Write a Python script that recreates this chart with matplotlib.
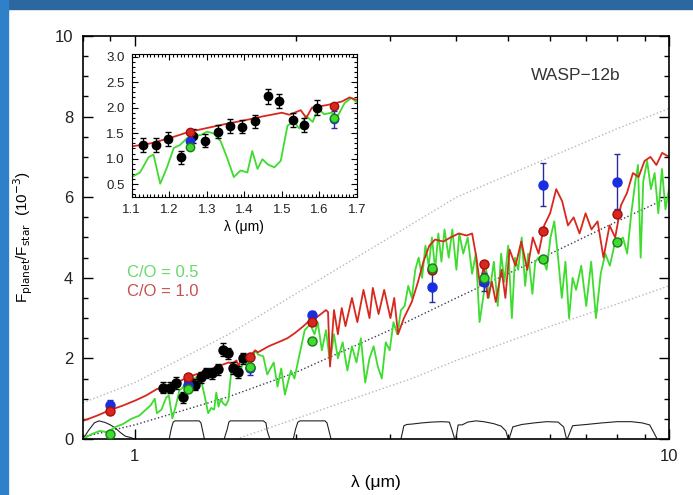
import numpy as np
import matplotlib.pyplot as plt
from matplotlib.ticker import MultipleLocator, FixedLocator, NullFormatter, FixedFormatter
from matplotlib.patches import Rectangle

plt.rcParams['font.family'] = ['Liberation Sans', 'DejaVu Sans']

# model spectra (wavelength in micron, Fp/Fs in 1e-3)
red_wl = [0.80, 0.85, 0.90, 0.95, 1.00, 1.05, 1.10, 1.15, 1.20, 1.25, 1.30, 1.35, 1.40, 1.45,
          1.50, 1.52, 1.55, 1.565, 1.58, 1.62, 1.66, 1.68, 1.70, 1.78, 1.87, 1.93, 1.99, 2.06,
          2.13, 2.18, 2.23, 2.28, 2.30, 2.32, 2.36, 2.40, 2.44, 2.48, 2.55, 2.61, 2.68, 2.75,
          2.79, 2.86, 2.93, 3.01, 3.06, 3.11, 3.19, 3.30, 3.39, 3.47, 3.56, 3.65, 3.78, 3.90,
          4.04, 4.18, 4.28, 4.36, 4.43, 4.50, 4.58, 4.66, 4.74, 4.86, 4.94, 5.03, 5.16, 5.29,
          5.43, 5.56, 5.70, 5.84, 5.99, 6.15, 6.31, 6.47, 6.63, 6.80, 6.98, 7.16, 7.35, 7.54,
          7.74, 7.93, 8.13, 8.34, 8.56, 8.77, 9.00, 9.23, 9.47, 9.71, 10.0]
red_f = [0.45, 0.58, 0.72, 0.83, 0.95, 1.08, 1.24, 1.30, 1.40, 1.52, 1.60, 1.68, 1.75, 1.83,
         1.90, 1.86, 1.95, 1.80, 2.00, 2.05, 2.12, 2.20, 2.15, 2.30, 2.42, 2.50, 2.62, 2.78,
         2.95, 3.00, 3.10, 3.20, 3.15, 1.80, 3.20, 2.60, 3.25, 2.80, 3.50, 2.90, 3.70, 3.00,
         3.75, 3.10, 3.70, 3.00, 3.50, 2.60, 3.00, 3.40, 3.90, 4.40, 4.80, 4.95, 4.90, 5.00,
         5.10, 5.05, 5.10, 4.50, 3.80, 4.30, 3.50, 3.90, 3.40, 4.20, 3.50, 4.70, 4.30, 4.90,
         4.20, 5.00, 4.60, 5.30, 5.60, 6.20, 5.90, 5.30, 5.50, 5.10, 5.60, 5.20, 5.40, 4.50,
         5.30, 5.00, 5.80, 6.10, 6.60, 6.50, 6.90, 7.00, 6.80, 7.10, 7.00]

green_wl = [0.80, 0.83, 0.86, 0.89, 0.92, 0.95, 0.985, 1.02, 1.045, 1.07, 1.09, 1.10, 1.122,
            1.145, 1.158, 1.176, 1.194, 1.212, 1.229, 1.247, 1.265, 1.283, 1.301, 1.319, 1.337,
            1.354, 1.372, 1.39, 1.408, 1.421, 1.435, 1.448, 1.462, 1.48, 1.497, 1.515, 1.533,
            1.546, 1.564, 1.582, 1.596, 1.613, 1.631, 1.649, 1.667, 1.685, 1.70, 1.74, 1.77,
            1.82, 1.85, 1.88, 1.91, 1.96, 1.99, 2.05, 2.08, 2.13, 2.17, 2.20, 2.24, 2.28, 2.32,
            2.36, 2.40, 2.45, 2.50, 2.55, 2.60, 2.65, 2.70, 2.75, 2.80, 2.85, 2.90, 2.95, 3.00,
            3.05, 3.10, 3.15, 3.20, 3.25, 3.30, 3.35, 3.40, 3.45, 3.50, 3.55, 3.60, 3.65, 3.70,
            3.75, 3.80, 3.87, 3.93, 4.00, 4.05, 4.12, 4.20, 4.28, 4.35, 4.42, 4.50, 4.55, 4.60,
            4.70, 4.78, 4.85, 4.92, 5.00, 5.08, 5.15, 5.22, 5.30, 5.38, 5.45, 5.55, 5.62, 5.70,
            5.80, 5.90, 6.00, 6.10, 6.20, 6.30, 6.40, 6.50, 6.60, 6.70, 6.85, 7.00, 7.15, 7.30,
            7.45, 7.60, 7.75, 7.90, 8.05, 8.20, 8.35, 8.50, 8.65, 8.75, 8.85, 8.95, 9.10, 9.25,
            9.40, 9.55, 9.70, 9.85, 10.0]
green_f = [0.00, 0.12, 0.20, 0.17, 0.30, 0.37, 0.50, 0.58, 0.71, 0.83, 1.00, 0.64, 0.73,
           1.03, 1.08, 0.51, 0.83, 1.21, 1.27, 1.40, 1.46, 1.46, 1.53, 1.49, 1.34,
           1.02, 0.64, 0.77, 0.73, 1.15, 0.80, 0.99, 0.89, 0.83, 0.96, 1.65, 1.72,
           1.59, 1.84, 1.72, 1.98, 1.87, 1.90, 1.84, 2.09, 2.19, 2.10, 2.05, 1.60,
           1.90, 1.30, 1.75, 1.10, 1.70, 1.50, 2.30, 2.70, 2.85, 2.60, 2.90, 2.20, 2.70, 1.90,
           2.60, 2.00, 2.40, 1.70, 2.30, 1.90, 2.50, 1.40, 2.00, 2.30, 1.80, 1.50, 2.40, 2.20,
           2.90, 2.60, 3.20, 3.30, 3.80, 3.50, 4.20, 4.50, 4.00, 4.80, 4.30, 5.00, 4.20, 5.10,
           4.40, 5.20, 4.50, 5.20, 4.20, 5.10, 4.60, 5.00, 4.10, 4.60, 2.90, 3.60, 4.20, 3.50,
           4.40, 3.30, 4.60, 3.90, 4.80, 3.00, 4.50, 4.20, 5.00, 3.80, 4.60, 3.60, 4.40, 4.50,
           4.50, 4.20, 5.00, 5.40, 4.50, 3.50, 4.40, 3.00, 4.00, 3.70, 4.30, 3.30, 4.40, 3.00,
           4.10, 4.60, 4.30, 4.80, 4.90, 5.00, 4.60, 5.60, 6.40, 6.80, 4.50, 6.40, 6.90, 6.20,
           6.60, 5.60, 6.70, 5.70, 6.20]

# blackbody reference curves (dotted)
bb_wl = [0.80, 1.00, 1.50, 2.00, 3.00, 4.00, 6.00, 8.00, 10.0]
bb_hot = [0.90, 1.40, 2.60, 3.60, 5.00, 6.00, 7.00, 7.70, 8.20]
bb_mid = [0.05, 0.35, 1.05, 1.65, 2.70, 3.50, 4.60, 5.40, 6.00]
bb_cold_wl = [1.55, 2.00, 2.50, 3.30, 4.00, 6.00, 8.00, 10.0]
bb_cold = [0.00, 0.50, 0.95, 1.50, 1.95, 2.80, 3.35, 3.80]

# filter transmission curves
filt_z_wl = [0.80, 0.82, 0.84, 0.857, 0.88, 0.90, 0.92, 0.94, 0.96, 0.98, 1.0]
filt_z = [0.0, 0.22, 0.40, 0.45, 0.41, 0.35, 0.27, 0.16, 0.07, 0.04, 0.0]
filt_j_wl = [1.16, 1.17, 1.18, 1.19, 1.32, 1.33, 1.34, 1.35]
filt_h_wl = [1.47, 1.49, 1.50, 1.51, 1.74, 1.76, 1.77, 1.79]
filt_k_wl = [1.98, 2.00, 2.02, 2.04, 2.27, 2.29, 2.31, 2.33]
filt_nir = [0.0, 0.25, 0.42, 0.45, 0.45, 0.40, 0.20, 0.0]
filt_c1_wl = [3.15, 3.19, 3.23, 3.30, 3.45, 3.60, 3.75, 3.88, 3.93, 3.97]
filt_c1 = [0.0, 0.33, 0.36, 0.37, 0.40, 0.42, 0.43, 0.42, 0.20, 0.0]
filt_c2_wl = [3.99, 4.03, 4.10, 4.20, 4.35, 4.50, 4.70, 4.85, 4.95, 5.0]
filt_c2 = [0.0, 0.35, 0.35, 0.42, 0.45, 0.43, 0.38, 0.32, 0.20, 0.0]
filt_c3_wl = [5.02, 5.10, 5.30, 5.60, 5.90, 6.20, 6.35, 6.43]
filt_c3 = [0.0, 0.30, 0.36, 0.40, 0.43, 0.42, 0.30, 0.0]
filt_c4_wl = [6.45, 6.60, 7.00, 7.50, 8.00, 8.50, 8.90, 9.20, 9.40, 9.50]
filt_c4 = [0.0, 0.33, 0.36, 0.40, 0.43, 0.43, 0.40, 0.35, 0.12, 0.0]

# HST/WFC3 spectrum
hst_wl = [1.131, 1.164, 1.196, 1.231, 1.263, 1.295, 1.329, 1.362, 1.395, 1.429, 1.462, 1.493,
          1.529, 1.560, 1.593]
hst_f = [1.27, 1.27, 1.39, 1.03, 1.44, 1.35, 1.53, 1.64, 1.63, 1.73, 2.22, 2.13, 1.76, 1.66, 2.00]
hst_err = [0.14, 0.14, 0.14, 0.13, 0.14, 0.13, 0.13, 0.13, 0.13, 0.13, 0.15, 0.14, 0.14, 0.14, 0.14]

# broadband photometry: observed (blue), C/O=1 (red), C/O=0.5 (green)
phot_wl = [0.90, 1.256, 1.64, 2.15, 3.6, 4.5, 5.8, 8.0]
phot_obs = [0.85, 1.35, 1.77, 3.07, 3.77, 3.89, 6.31, 6.38]
phot_err = [0.12, 0.12, 0.17, 0.10, 0.37, 0.22, 0.53, 0.68]
phot_red = [0.70, 1.53, 2.03, 2.90, 4.19, 4.35, 5.17, 5.59]
phot_green = [0.13, 1.23, 1.79, 2.44, 4.25, 4.00, 4.47, 4.88]

c_green = '#3ddc2e'
c_red = '#d8281e'
c_blue = '#1a2ee0'

fig = plt.figure(figsize=(6.93, 4.95), dpi=100)
fig.patches.append(Rectangle((0, 1 - 9 / 495), 1, 9 / 495, transform=fig.transFigure,
                             color='#2d67a0', zorder=-1))
fig.patches.append(Rectangle((0, 0), 8 / 693, 1, transform=fig.transFigure,
                             color='#2f80c8', zorder=-1))

ax = fig.add_axes([83 / 693, 1 - 439 / 495, 586 / 693, 403 / 495])
ax.set_xscale('log')

ax.plot(bb_wl, bb_hot, ls=':', color='#b8b8b8', lw=1.0)
ax.plot(bb_wl, bb_mid, ls=':', color='#3a3a5a', lw=1.0)
ax.plot(bb_cold_wl, bb_cold, ls=':', color='#b8b8b8', lw=1.0)

for wl, tr in [(filt_z_wl, filt_z), (filt_j_wl, filt_nir), (filt_h_wl, filt_nir),
               (filt_k_wl, filt_nir), (filt_c1_wl, filt_c1), (filt_c2_wl, filt_c2),
               (filt_c3_wl, filt_c3), (filt_c4_wl, filt_c4)]:
    ax.plot(wl, tr, color='#222222', lw=0.8)

ax.plot(green_wl, green_f, color=c_green, lw=1.3)
ax.plot(red_wl, red_f, color=c_red, lw=1.3)

ax.errorbar(hst_wl, hst_f, yerr=hst_err, fmt='o', color='black', ms=6.5, capsize=2.5,
            elinewidth=0.9, zorder=5)
ax.errorbar(phot_wl, phot_obs, yerr=phot_err, fmt='o', color=c_blue, ecolor='#2a2a9a',
            ms=6.5, capsize=2.5, elinewidth=1.0, zorder=5)
ax.plot(phot_wl, phot_red, 'o', color=c_red, mec='#a01010', ms=6.5, zorder=6)
ax.plot(phot_wl, phot_green, 'o', color=c_green, mec='#1a7a1a', ms=6.5, zorder=6)

ax.set_xlim(0.8, 10)
ax.set_ylim(0, 10)
ax.xaxis.set_major_locator(FixedLocator([1, 10]))
ax.xaxis.set_major_formatter(FixedFormatter(['1', '10']))
ax.xaxis.set_minor_locator(FixedLocator([0.8, 0.9, 2, 3, 4, 5, 6, 7, 8, 9]))
ax.xaxis.set_minor_formatter(NullFormatter())
ax.yaxis.set_major_locator(MultipleLocator(2))
ax.yaxis.set_minor_locator(MultipleLocator(0.5))
ax.tick_params(which='both', direction='in', top=True, right=True, labelsize=12,
               labelcolor='#222222', width=1.0)
ax.tick_params(which='major', length=7, pad=7)
ax.tick_params(which='minor', length=3.5)
for s in ax.spines.values():
    s.set_linewidth(1.2)

ax.set_xlabel('λ (μm)', fontsize=12.5, labelpad=8)
ax.set_ylabel(r'F$_{\rm planet}$/F$_{\rm star}$  (10$^{-3}$)', fontsize=11, labelpad=14)

ax.text(0.84, 0.903, 'WASP−12b', transform=ax.transAxes, fontsize=12.5, color='#333333',
        ha='center', va='center')
ax.text(0.075, 0.414, 'C/O = 0.5', transform=ax.transAxes, fontsize=12, color='#6ad86a',
        va='center')
ax.text(0.075, 0.365, 'C/O = 1.0', transform=ax.transAxes, fontsize=12, color='#c85050',
        va='center')

# inset: zoom on WFC3 range
ins = fig.add_axes([131.7 / 693, 1 - 197 / 495, 225.3 / 693, 143 / 495])
ins.plot(green_wl, green_f, color=c_green, lw=1.3)
ins.plot(red_wl, red_f, color=c_red, lw=1.3)
ins.errorbar(hst_wl, hst_f, yerr=hst_err, fmt='o', color='black', ms=6, capsize=2.5,
             elinewidth=0.9, zorder=5)
ins.errorbar(phot_wl, phot_obs, yerr=phot_err, fmt='o', color=c_blue, ecolor='#2a2a9a',
             ms=6, capsize=2.5, elinewidth=1.0, zorder=5)
ins.plot(phot_wl, phot_red, 'o', color=c_red, mec='#a01010', ms=6, zorder=6)
ins.plot(phot_wl, phot_green, 'o', color=c_green, mec='#1a7a1a', ms=6, zorder=6)
ins.set_xlim(1.1, 1.7)
ins.set_ylim(0.25, 3.05)
ins.xaxis.set_major_locator(MultipleLocator(0.1))
ins.xaxis.set_minor_locator(MultipleLocator(0.01))
ins.yaxis.set_major_locator(MultipleLocator(0.5))
ins.yaxis.set_minor_locator(MultipleLocator(0.1))
ins.xaxis.set_major_formatter(plt.FormatStrFormatter('%.1f'))
ins.yaxis.set_major_formatter(plt.FormatStrFormatter('%.1f'))
ins.tick_params(which='both', direction='in', top=True, right=True, labelsize=9.5,
                labelcolor='#222222', width=0.8)
ins.tick_params(which='major', length=4, pad=5)
ins.tick_params(which='minor', length=2)
ins.set_xlabel('λ (μm)', fontsize=10, labelpad=3)

fig.savefig('out.png', dpi=100)
